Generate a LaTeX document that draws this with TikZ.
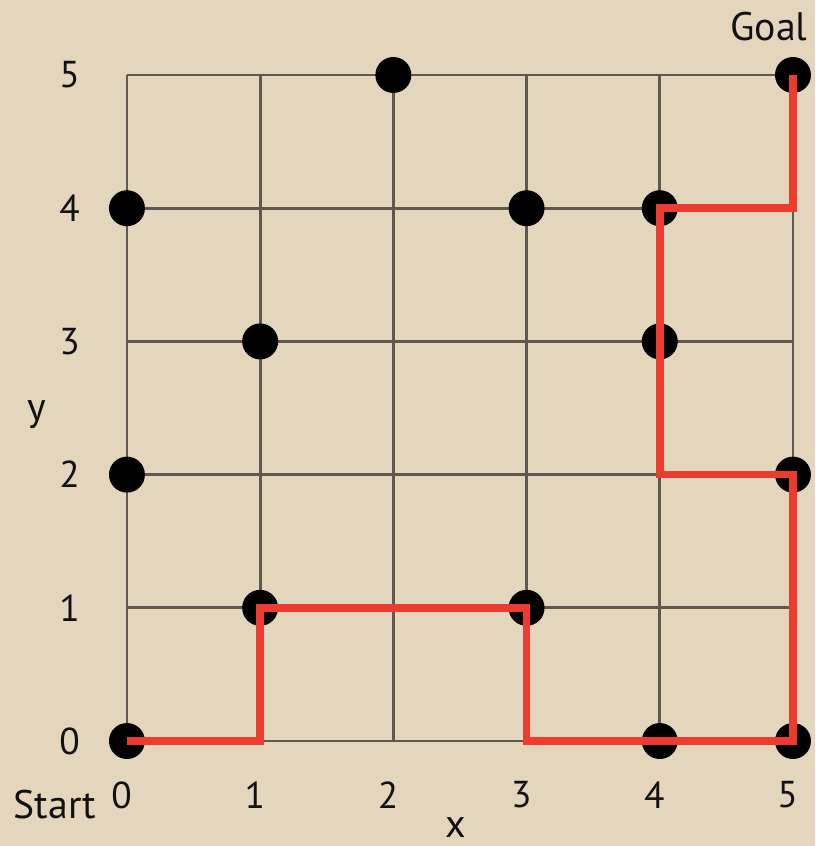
\documentclass[tikz,border=0pt]{standalone}
\usepackage{fontspec}
\setmainfont{PT Sans}
\usetikzlibrary{calc}
\definecolor{gparch}{HTML}{E4D6BD}
\definecolor{gpline}{HTML}{5E584E}
\definecolor{gpred}{HTML}{EE3B2F}
\definecolor{gpink}{HTML}{111111}
\tikzset{
  gridline/.style={draw=gpline,line width=.6pt},
  stone/.style={circle,fill=black,inner sep=0pt,minimum size=2.7mm},
  route/.style={draw=gpred,line width=1.6pt,line join=miter},
  tick/.style={font=\fontsize{8}{9}\selectfont,text=gpink,inner sep=0pt},
  tag/.style={font=\fontsize{8.5}{10}\selectfont,text=gpink,inner sep=0pt},
}
\begin{document}
\begin{tikzpicture}[x=1cm,y=1cm]
  \path[use as bounding box] (-0.953,-0.788) rectangle (5.166,5.563);
  \fill[gparch] (-0.953,-0.788) rectangle (5.166,5.563);
  % lattice points
  \foreach \i in {0,...,5}{
    \foreach \j in {0,...,5}{
      \coordinate (p-\i-\j) at (\i,\j);
    }
  }
  \foreach \k in {0,...,5}{
    \draw[gridline] (p-\k-0) -- (p-\k-5);
    \draw[gridline] (p-0-\k) -- (p-5-\k);
    \node[tick] (xl-\k) at ($(p-\k-0)+(-0.04,-0.405)$) {\k};
    \node[tick] (yl-\k) at ($(p-0-\k)+(-0.43,0)$) {\k};
  }
  % obstacles
  \foreach \i/\j in {2/5,5/5,0/4,3/4,4/4,1/3,4/3,0/2,5/2,1/1,3/1,0/0,4/0,5/0}{
    \node[stone] (s-\i-\j) at (p-\i-\j) {};
  }
  % path
  \draw[route] (p-0-0) -- (p-1-0) -- (p-1-1) -- (p-3-1) -- (p-3-0) -- (p-5-0)
    -- (p-5-2) -- (p-4-2) -- (p-4-4) -- (p-5-4) -- (p-5-5);
  \node[tag] (ylab) at (-0.676,2.45) {y};
  \node[tag] (xlab) at (2.47,-0.65) {x};
  \node[tag] (start) at (-0.54,-0.48) {Start};
  \node[tag] (goal) at (4.82,5.36) {Goal};
\end{tikzpicture}
\end{document}
